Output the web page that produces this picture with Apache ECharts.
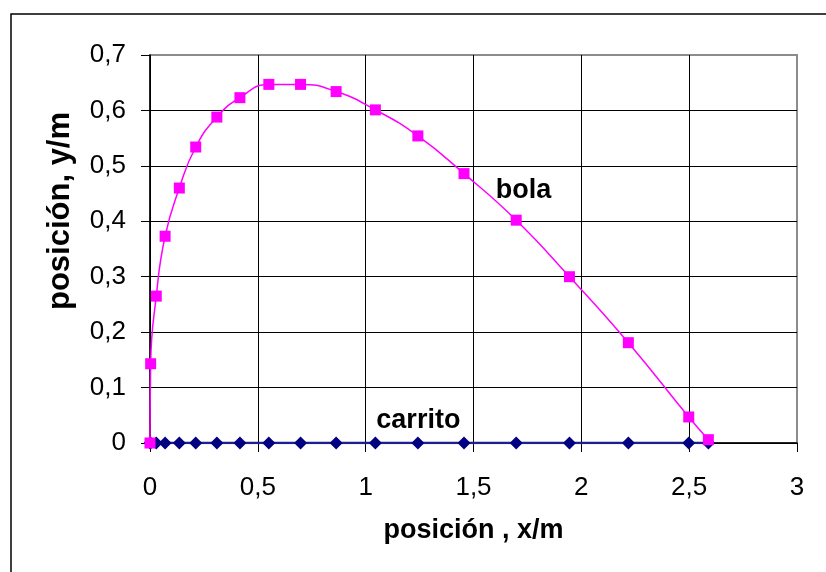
<!DOCTYPE html>
<html>
<head>
<meta charset="utf-8">
<script src="https://cdn.jsdelivr.net/npm/echarts@6/dist/echarts.min.js"></script>
<style>
  html, body { margin: 0; padding: 0; background: #fff; }
  #chart { width: 826px; height: 572px; }
</style>
</head>
<body>
<div id="chart"></div>
<script>
// horizontal position (m), shared by ball and cart
const posX = [0, 0.003, 0.029, 0.070, 0.136, 0.212, 0.310, 0.417, 0.551, 0.698,
              0.863, 1.045, 1.242, 1.456, 1.698, 1.945, 2.218, 2.498, 2.589];
// ball height (m)
const bolaY = [0, 0.143, 0.265, 0.373, 0.460, 0.534, 0.588, 0.623, 0.647, 0.647,
               0.634, 0.601, 0.554, 0.486, 0.402, 0.300, 0.181, 0.047, 0.006];
// cart height (m) — stays on the ground
const carritoY = [0, 0, 0, 0, 0, 0, 0, 0, 0, 0, 0, 0, 0, 0, 0, 0, 0, 0, 0];

const xTickLabels = ['0', '0,5', '1', '1,5', '2', '2,5', '3'];
const yTickLabels = ['0', '0,1', '0,2', '0,3', '0,4', '0,5', '0,6', '0,7'];

const FONT = "'Liberation Sans', Arial, sans-serif";

// series-name labels sit next to one chosen point of each series
const bolaLabelIdx = 13;
const carritoLabelIdx = 12;

const bolaData = posX.map((x, i) => {
  const item = { value: [x, bolaY[i]] };
  if (i === bolaLabelIdx) {
    item.label = {
      show: true, formatter: 'bola', position: [65, 22],
      align: 'center', verticalAlign: 'middle',
      fontFamily: FONT, fontWeight: 'bold', fontSize: 27, color: '#000'
    };
  }
  return item;
});

const carritoData = posX.map((x, i) => {
  const item = { value: [x, carritoY[i]] };
  if (i === carritoLabelIdx) {
    item.label = {
      show: true, formatter: 'carrito', position: [7, -16],
      align: 'center', verticalAlign: 'middle',
      fontFamily: FONT, fontWeight: 'bold', fontSize: 27, color: '#000'
    };
  }
  return item;
});

const chart = echarts.init(document.getElementById('chart'), null, { renderer: 'canvas' });

chart.setOption({
  animation: false,
  backgroundColor: '#fff',
  textStyle: { fontFamily: FONT },
  grid: {
    left: 150, right: 29, top: 55, bottom: 129,
    show: true, borderColor: '#8c8c8c', borderWidth: 2, backgroundColor: 'transparent'
  },
  graphic: [
    {
      // frame around the chart area
      type: 'rect', z: -10, silent: true,
      shape: { x: 11, y: 14, width: 900, height: 700 },
      style: { fill: 'none', stroke: '#000', lineWidth: 1.5 }
    },
    {
      // vertical axis title
      type: 'text', silent: true, x: 60, y: 211, rotation: Math.PI / 2,
      style: {
        text: 'posición, y/m', align: 'center', verticalAlign: 'middle',
        fontFamily: FONT, fontWeight: 'bold', fontSize: 31, fill: '#000'
      }
    }
  ],
  xAxis: {
    type: 'value', min: 0, max: 3, interval: 0.5,
    name: 'posición , x/m', nameLocation: 'middle', nameGap: 74,
    nameTextStyle: { fontFamily: FONT, fontWeight: 'bold', fontSize: 27, color: '#000' },
    axisLine: { show: true, onZero: false, lineStyle: { color: '#000', width: 1.5 } },
    axisTick: { show: true, inside: false, length: 9, lineStyle: { color: '#000', width: 1 } },
    axisLabel: {
      margin: 32, fontFamily: FONT, fontSize: 26, color: '#000',
      formatter: v => xTickLabels[Math.round(v / 0.5)]
    },
    splitLine: { show: true, showMaxLine: false, lineStyle: { color: '#000', width: 1 } }
  },
  yAxis: {
    type: 'value', min: 0, max: 0.7, interval: 0.1,
    axisLine: { show: true, onZero: false, lineStyle: { color: '#000', width: 1.5 } },
    axisTick: { show: true, inside: false, length: 9, lineStyle: { color: '#000', width: 1 } },
    axisLabel: {
      margin: 24, fontFamily: FONT, fontSize: 26, color: '#000',
      formatter: v => yTickLabels[Math.round(v / 0.1)]
    },
    splitLine: { show: true, showMaxLine: false, lineStyle: { color: '#000', width: 1 } }
  },
  series: [
    {
      name: 'carrito', type: 'line', data: carritoData,
      symbol: 'diamond', symbolSize: [13, 13], showAllSymbol: true,
      lineStyle: { color: '#1f1f90', width: 2.5 },
      itemStyle: { color: '#000080', borderWidth: 0 },
      z: 3
    },
    {
      name: 'bola', type: 'line', data: bolaData, smooth: 0.5,
      symbol: 'rect', symbolSize: 11, showAllSymbol: true,
      lineStyle: { color: '#ff00ff', width: 1.5 },
      itemStyle: { color: '#ff00ff', borderWidth: 0 },
      z: 4
    }
  ]
});
</script>
</body>
</html>
